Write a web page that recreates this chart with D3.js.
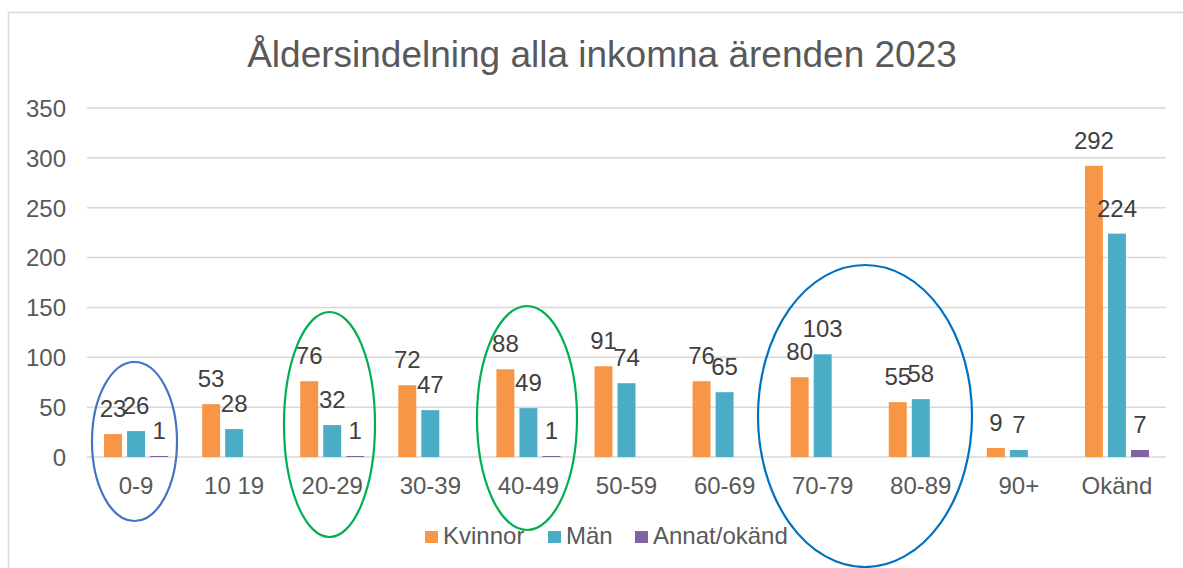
<!DOCTYPE html>
<meta charset="utf-8">
<style>
body { margin: 0; background: #fff; }
svg { font-family: "Liberation Sans", Arial, sans-serif; }
.grid line { stroke: #d9d9d9; stroke-width: 1.5; }
.ylab text, .xlab text { fill: #595959; font-size: 24px; }
.vlab { fill: #404040; font-size: 24px; text-anchor: middle; }
.title { fill: #595959; font-size: 37px; text-anchor: middle; }
.legend text { fill: #595959; font-size: 24px; }
</style>
<svg class="canvas"></svg>
<script src="https://cdn.jsdelivr.net/npm/d3@7"></script>
<script>

var categories = ["0-9","10 19","20-29","30-39","40-49","50-59","60-69","70-79","80-89","90+","Okänd"];
var kvinnor = [23, 53, 76, 72, 88, 91, 76, 80, 55, 9, 292];
var man = [26, 28, 32, 47, 49, 74, 65, 103, 58, 7, 224];
var annat = [1, null, 1, null, 1, null, null, null, null, null, 7];
var seriesNames = ["Kvinnor", "Män", "Annat/okänd"];
var colors = ["#f79646", "#4bacc6", "#8064a2"];
var yTicks = [0, 50, 100, 150, 200, 250, 300, 350];

var W = 1183, H = 568;
var PLOT_L = 87, PLOT_R = 1166, PLOT_T = 108, PLOT_B = 457;

var svg = d3.select(".canvas").attr("width", W).attr("height", H);

// outer frame
svg.append("rect")
	.attr("x", 8.5).attr("y", 12.5)
	.attr("width", W + 10).attr("height", H + 10)
	.attr("fill", "none").attr("stroke", "#d9d9d9").attr("stroke-width", 1.5);

svg.append("text").attr("class", "title")
	.attr("x", 602).attr("y", 67)
	.text("Åldersindelning alla inkomna ärenden 2023");

var y = d3.scaleLinear().domain([0, 350]).range([PLOT_B, PLOT_T]);
var x0 = d3.scaleBand().domain(categories).range([PLOT_L, PLOT_R]);
var x1 = d3.scaleBand().domain([0, 1, 2]).range([x0.bandwidth() / 2 - 32, x0.bandwidth() / 2 + 32]).paddingInner(0.22);

svg.append("g").attr("class", "grid")
	.selectAll("line").data(yTicks).enter().append("line")
	.attr("x1", PLOT_L).attr("x2", PLOT_R)
	.attr("y1", function(d) { return y(d); }).attr("y2", function(d) { return y(d); });

var yAxis = svg.append("g").attr("class", "ylab")
	.attr("transform", "translate(" + (PLOT_L - 21) + ",0)")
	.call(d3.axisLeft(y).tickValues(yTicks).tickSize(0).tickPadding(0));
yAxis.select(".domain").remove();
yAxis.selectAll("text").attr("dy", "0.35em");

var xAxis = svg.append("g").attr("class", "xlab")
	.attr("transform", "translate(0," + PLOT_B + ")")
	.call(d3.axisBottom(x0).tickSize(0).tickPadding(0));
xAxis.select(".domain").remove();
xAxis.selectAll("text").attr("dy", null).attr("y", 37);

var rows = [];
[kvinnor, man, annat].forEach(function(s, si) {
	s.forEach(function(v, i) {
		if (v !== null) rows.push({ cat: categories[i], s: si, v: v });
	});
});

var bars = svg.append("g").selectAll("g").data(rows).enter().append("g")
	.attr("transform", function(d) { return "translate(" + (x0(d.cat) + x1(d.s)) + ",0)"; });

bars.append("rect")
	.attr("y", function(d) { return y(d.v); })
	.attr("width", x1.bandwidth())
	.attr("height", function(d) { return Math.max(1, y(0) - y(d.v)); })
	.attr("fill", function(d) { return colors[d.s]; });

bars.append("text").attr("class", "vlab")
	.attr("x", x1.bandwidth() / 2)
	.attr("y", function(d) { return y(d.v) - 17; })
	.text(function(d) { return d.v; });

// legend
var legendX = [425, 548, 635];
var legend = svg.append("g").attr("class", "legend").selectAll("g").data(seriesNames).enter().append("g")
	.attr("transform", function(d, i) { return "translate(" + legendX[i] + ",531)"; });
legend.append("rect").attr("width", 13).attr("height", 12)
	.attr("fill", function(d, i) { return colors[i]; });
legend.append("text").attr("x", 18).attr("y", 13).text(function(d) { return d; });

// hand-drawn highlight ellipses
var rings = [
	{ cx: 134.5, cy: 441.5, rx: 42.5, ry: 79.5, c: "#4472c4" },
	{ cx: 329.5, cy: 424.5, rx: 45.5, ry: 112.5, c: "#00b050" },
	{ cx: 527, cy: 418, rx: 50, ry: 112, c: "#00b050" },
	{ cx: 865, cy: 416, rx: 107, ry: 151, c: "#0070c0" }
];
svg.append("g").selectAll("ellipse").data(rings).enter().append("ellipse")
	.attr("cx", function(d) { return d.cx; }).attr("cy", function(d) { return d.cy; })
	.attr("rx", function(d) { return d.rx; }).attr("ry", function(d) { return d.ry; })
	.attr("fill", "none").attr("stroke", function(d) { return d.c; }).attr("stroke-width", 2.2);

</script>
